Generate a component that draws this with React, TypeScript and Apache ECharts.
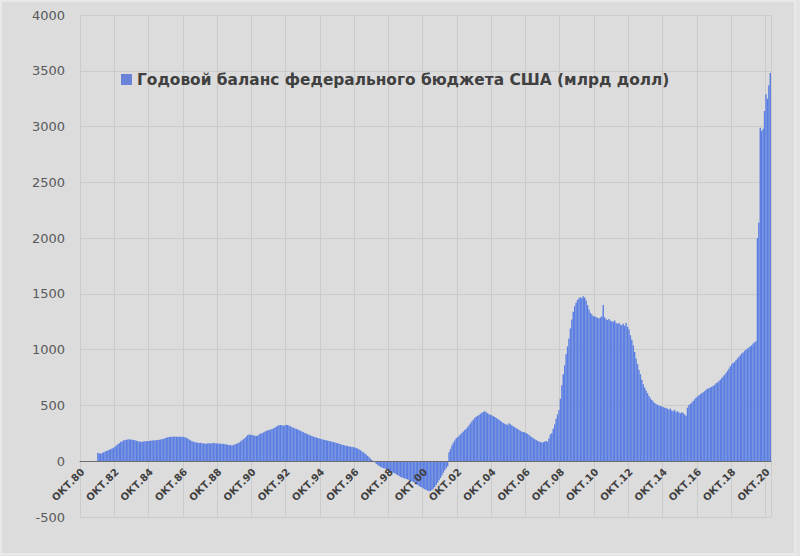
import React, { useEffect, useRef } from "react";
import * as echarts from "echarts";

const SERIES_NAME = "Годовой баланс федерального бюджета США (млрд долл)";
const MONTH_NAMES = ["ЯНВ", "ФЕВ", "МАР", "АПР", "МАЙ", "ИЮН", "ИЮЛ", "АВГ", "СЕН", "ОКТ", "НОЯ", "ДЕК"];
const START_YEAR = 1980;
const START_MONTH_INDEX = 9; // October
const LABEL_EVERY = 24; // one label per two years

const Y_MIN = -500;
const Y_MAX = 4000;
const Y_STEP = 500;

// 12-month rolling balance, billions USD, monthly from Oct 1980 (one row per fiscal year Oct..Sep)
const deficit1980s = [
  0, 0, 0, 0, 0, 0, 0, 0, 0, 0, 0, 0,
  76, 70, 68, 74, 80, 86, 92, 96, 102, 108, 114, 120,
  130, 142, 152, 162, 172, 180, 186, 190, 193, 195, 196, 194,
  192, 190, 187, 184, 180, 177, 175, 174, 176, 178, 180, 181,
  182, 184, 185, 186, 187, 188, 190, 192, 195, 198, 201, 205,
  210, 214, 217, 219, 220, 220, 219, 220, 220, 219, 218, 219,
  217, 214, 210, 202, 194, 186, 180, 175, 171, 168, 165, 163,
  165, 162, 160, 158, 156, 160, 162, 158, 160, 164, 162, 160,
  158, 156, 158, 155, 156, 153, 151, 148, 146, 144, 142, 146,
];

const deficit1990s = [
  150, 156, 162, 168, 178, 188, 196, 208, 220, 236, 240, 236,
  236, 232, 228, 226, 230, 240, 248, 250, 258, 265, 272, 278,
  280, 284, 288, 294, 300, 310, 318, 322, 325, 322, 318, 322,
  326, 324, 318, 312, 305, 300, 294, 290, 284, 278, 272, 266,
  260, 254, 248, 242, 236, 230, 225, 220, 216, 212, 208, 204,
  200, 196, 193, 190, 187, 184, 181, 178, 175, 172, 168, 164,
  160, 156, 152, 148, 145, 142, 139, 136, 133, 130, 128, 126,
  122, 118, 112, 106, 98, 88, 80, 70, 60, 48, 36, 22,
  12, 2, -10, -22, -32, -42, -50, -56, -62, -66, -70, -76,
  -84, -90, -96, -102, -108, -116, -124, -132, -140, -146, -150, -156,
];

const deficit2000s = [
  -160, -164, -170, -176, -180, -186, -194, -202, -212, -222, -230, -236,
  -244, -252, -258, -264, -270, -266, -258, -246, -232, -214, -192, -170,
  -150, -128, -104, -82, -62, -46, 80, 110, 140, 165, 185, 205,
  215, 228, 240, 252, 266, 280, 292, 305, 322, 340, 355, 372,
  388, 398, 405, 415, 425, 435, 442, 448, 440, 430, 422, 416,
  410, 404, 396, 388, 380, 372, 362, 352, 342, 336, 330, 325,
  340, 330, 320, 312, 305, 296, 288, 280, 272, 265, 262, 258,
  252, 244, 234, 224, 214, 206, 198, 190, 182, 176, 172, 168,
  170, 176, 182, 174, 205, 240, 252, 290, 330, 380, 420, 460,
  560, 680, 780, 860, 960, 1030, 1100, 1190, 1270, 1340, 1390, 1420,
];

const deficit2010s = [
  1445, 1460, 1470, 1462, 1478, 1468, 1440, 1400, 1360, 1330, 1315, 1300,
  1298, 1292, 1285, 1280, 1288, 1300, 1400, 1290, 1272, 1265, 1275, 1260,
  1255, 1250, 1262, 1240, 1232, 1240, 1225, 1218, 1232, 1214, 1238, 1205,
  1180, 1130, 1090, 1040, 980, 920, 870, 820, 780, 730, 690, 660,
  635, 610, 585, 565, 548, 535, 522, 512, 505, 500, 495, 490,
  486, 480, 476, 470, 462, 472, 455, 448, 462, 440, 448, 436,
  430, 440, 432, 418, 408, 480, 505, 515, 525, 540, 555, 570,
  580, 590, 600, 610, 618, 628, 640, 650, 655, 660, 668, 675,
  685, 700, 705, 720, 730, 745, 760, 775, 790, 810, 830, 850,
  870, 880, 890, 905, 920, 935, 950, 965, 975, 990, 1000, 1010,
];

const deficit2020s = [
  1020, 1030, 1040, 1055, 1065, 1075, 2000, 2140, 2990, 2960, 2980, 3140,
  3290, 3250, 3370, 3480,
];

const values = [...deficit1980s, ...deficit1990s, ...deficit2000s, ...deficit2010s, ...deficit2020s];

const categories = values.map((_, i) => {
  const k = START_MONTH_INDEX + i;
  const year = START_YEAR + Math.floor(k / 12);
  return `${MONTH_NAMES[k % 12]}.${String(year % 100).padStart(2, "0")}`;
});

const GRID_TOP = 15;
const GRID_BOTTOM = 39;
const CHART_H = 556;
const zeroOffset = ((0 - Y_MIN) / (Y_MAX - Y_MIN)) * (CHART_H - GRID_TOP - GRID_BOTTOM);

const backgroundRect = {
  id: "bg",
  type: "rect",
  z: -10,
  silent: true,
  shape: { x: 1, y: 1, width: 794, height: 553 },
  style: { fill: "#dcdcdc", stroke: "#ececec", lineWidth: 1.5 },
};

export default function App() {
  const ref = useRef<HTMLDivElement>(null);

  useEffect(() => {
    if (!ref.current) return;
    const chart = echarts.init(ref.current, undefined, { renderer: "svg" });
    chart.setOption({
      animation: false,
      backgroundColor: "#e3e3e3",
      graphic: [backgroundRect],
      grid: { left: 80, right: 29, top: GRID_TOP, bottom: GRID_BOTTOM },
      legend: {
        left: 116,
        top: 67,
        icon: "rect",
        itemWidth: 11,
        itemHeight: 11,
        itemGap: 6,
        data: [{ name: SERIES_NAME, itemStyle: { color: "#6a82d8" } }],
        textStyle: {
          fontFamily: "DejaVu Sans",
          fontSize: 15.4,
          fontWeight: "bold",
          color: "#404040",
        },
      },
      xAxis: [
        {
          type: "category",
          data: categories,
          boundaryGap: true,
          axisLine: { show: false },
          axisTick: { show: false },
          axisLabel: { show: false },
          splitLine: { show: true, interval: LABEL_EVERY - 1, lineStyle: { color: "#cbcbcb", width: 1 } },
        },
        {
          type: "category",
          data: categories,
          boundaryGap: true,
          position: "bottom",
          offset: -zeroOffset,
          z: 5,
          axisLine: { onZero: false, lineStyle: { color: "#6e6e6e", width: 1 } },
          axisTick: { show: false },
          axisLabel: { show: false },
          splitLine: { show: false },
        },
      ],
      yAxis: {
        type: "value",
        min: Y_MIN,
        max: Y_MAX,
        interval: Y_STEP,
        axisLine: { show: false },
        axisTick: { show: false },
        axisLabel: {
          margin: 15,
          fontFamily: "DejaVu Sans",
          fontSize: 13,
          color: "#595959",
          formatter: (v: number) => String(v),
        },
        splitLine: { lineStyle: { color: "#cbcbcb", width: 1 } },
      },
      series: [
        {
          name: SERIES_NAME,
          type: "bar",
          xAxisIndex: 0,
          data: values,
          barCategoryGap: "0%",
          itemStyle: { color: "#5b7ee2" },
        },
      ],
    });

    // rotated category labels (every two years), positioned through the chart's own axis scales
    const labels = categories
      .map((name, i) => ({ name, i }))
      .filter(({ i }) => i % LABEL_EVERY === 0)
      .map(({ name, i }) => {
        const p = chart.convertToPixel({ xAxisIndex: 0, yAxisIndex: 0 }, [i, 0]) as number[];
        return {
          id: "lbl" + i,
          type: "text",
          z: 20,
          silent: true,
          x: p[0] + 2,
          y: p[1] + 9,
          rotation: Math.PI / 4,
          style: {
            text: name,
            align: "right",
            verticalAlign: "middle",
            fontFamily: "DejaVu Sans",
            fontSize: 10,
            fontWeight: "bold",
            fill: "#404040",
          },
        };
      });
    chart.setOption({ graphic: [backgroundRect, ...labels] });

    return () => chart.dispose();
  }, []);

  return (
    <div
      ref={ref}
      style={{ position: "fixed", left: 0, top: 0, width: 800, height: 556 }}
    />
  );
}
